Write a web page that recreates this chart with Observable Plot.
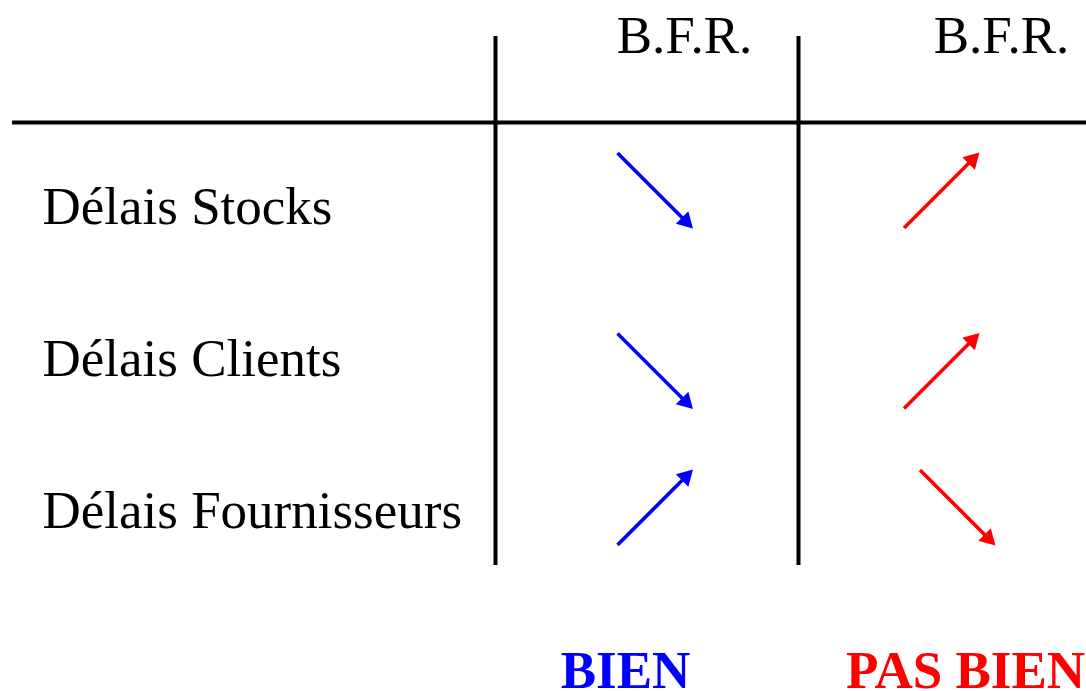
<!DOCTYPE html>
<html>
<head>
<meta charset="utf-8">
<script src="https://cdn.jsdelivr.net/npm/d3@7"></script>
<script src="https://cdn.jsdelivr.net/npm/@observablehq/plot@0.6"></script>
<style>
  html, body { margin: 0; padding: 0; background: #ffffff; }
</style>
</head>
<body>
<div id="chart"></div>
<script>
// ---------- data ----------
const rows = ["Délais Stocks", "Délais Clients", "Délais Fournisseurs"];
const columnHeaders = ["B.F.R.", "B.F.R."];
const verdicts = ["BIEN", "PAS BIEN"];
// direction of the delay in each column
const bienTrend = ["down", "down", "up"];
const pasBienTrend = ["up", "up", "down"];

// ---------- layout (pixels) ----------
const W = 1086, H = 691;
const COL_PX = 303;              // width of one table column
const ROW_PX = 152;              // distance between rows
const X_RANGE = [495, 798];      // separator lines = column boundaries 1 and 2
const Y_RANGE = [206.4, 510.4];  // rows 0..2 (text middle)
const toY = px => (px - Y_RANGE[0]) / ROW_PX;
const toX = px => 1 + (px - X_RANGE[0]) / COL_PX;

const FONT = "'Liberation Serif', 'Times New Roman', serif";
const FS = 53;
const INK = "#000000";
const BLUE = "#0000ff";
const RED = "#ff0000";

const HEADER_DX = [37.5, 51.5];     // px shift of each header from its column centre
const ROW_ARROW_DY = [-16.4, 12.1, -3.4]; // px shift of the arrows in each row
const ARROW_HALF = 37.5;  // px
const HEAD_BACK = 8;      // px per axis where the shaft stops
const HEAD_CENTER = 6.8;  // px per axis from tip to triangle centre

function arrowGeometry(trends, col, cellDx) {
  return trends.map((t, i) => {
    const s = t === "down" ? 1 : -1; // +1: down-right, -1: up-right
    const ux = 1 / COL_PX, uy = 1 / ROW_PX;
    const cx = col + (cellDx[i] || 0) * ux;
    const cy = i + ROW_ARROW_DY[i] * uy;
    return {
      x1: cx - ARROW_HALF * ux,
      y1: cy - s * ARROW_HALF * uy,
      x2: cx + (ARROW_HALF - HEAD_BACK) * ux,
      y2: cy + s * (ARROW_HALF - HEAD_BACK) * uy,
      hx: cx + (ARROW_HALF - HEAD_CENTER) * ux,
      hy: cy + s * (ARROW_HALF - HEAD_CENTER) * uy,
      rot: t === "down" ? 135 : 45
    };
  });
}

function arrowMarks(trends, col, color, cellDx) {
  const g = arrowGeometry(trends, col, cellDx);
  return [
    Plot.link(g, {x1: "x1", y1: "y1", x2: "x2", y2: "y2", stroke: color, strokeWidth: 3.6, strokeLinecap: "butt"}),
    Plot.dot(g, {x: "hx", y: "hy", symbol: "triangle", r: 6.6, rotate: "rot", fill: color, stroke: "none"})
  ];
}

const chart = Plot.plot({
  width: W,
  height: H,
  marginLeft: 12,
  marginRight: 0,
  marginTop: 0,
  marginBottom: 0,
  style: {background: "#ffffff", overflow: "visible"},
  x: {type: "linear", domain: [1, 2], range: X_RANGE, axis: null},
  y: {type: "linear", domain: [0, 2], range: Y_RANGE, axis: null},
  marks: [
    // table lines
    Plot.ruleY([toY(122)], {stroke: INK, strokeWidth: 4}),
    Plot.ruleX([1, 2], {y1: toY(36), y2: toY(565), stroke: INK, strokeWidth: 4}),
    // column headers
    Plot.text(columnHeaders, {x: (d, i) => i + 1.5 + HEADER_DX[i] / COL_PX, y: toY(36), text: d => d,
      fontSize: FS, fontFamily: FONT, fill: INK}),
    // row labels
    Plot.text(rows, {x: toX(42), y: (d, i) => i, text: d => d, textAnchor: "start",
      fontSize: FS, fontFamily: FONT, fill: INK}),
    // arrows
    ...arrowMarks(bienTrend, 1.5, BLUE, [8, 8, 8]),
    ...arrowMarks(pasBienTrend, 2.5, RED, [-8.5, -8.5, 7.5]),
    // verdicts
    Plot.text([verdicts[0]], {x: 1.5, y: toY(671), text: d => d, dx: -21.5,
      fontSize: FS, fontFamily: FONT, fontWeight: "bold", fill: BLUE}),
    Plot.text([verdicts[1]], {x: 2.5, y: toY(671), text: d => d, dx: 15.5,
      fontSize: FS, fontFamily: FONT, fontWeight: "bold", fill: RED})
  ]
});

document.getElementById("chart").appendChild(chart);
</script>
</body>
</html>
